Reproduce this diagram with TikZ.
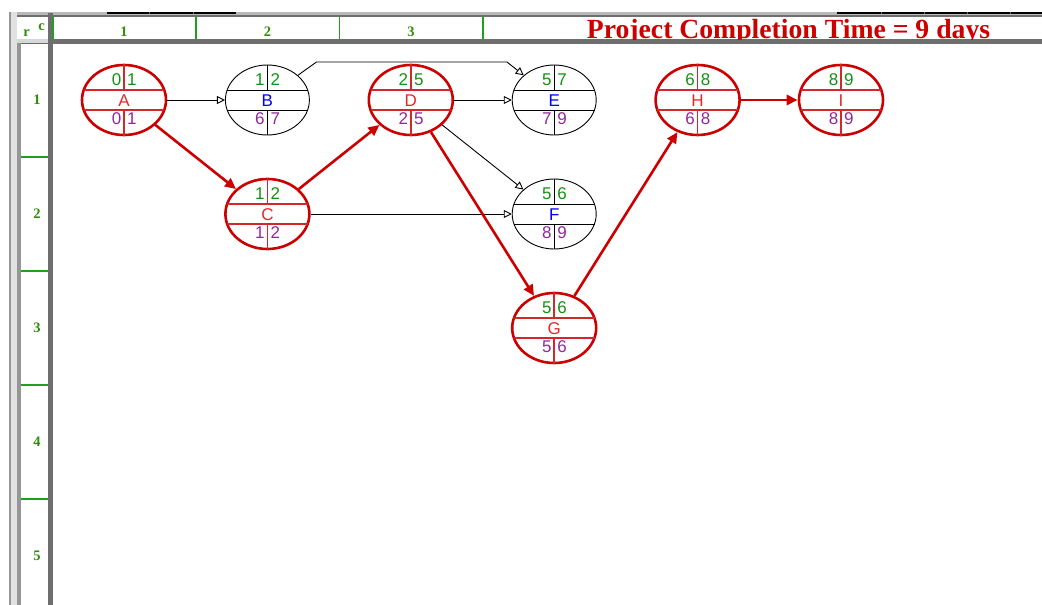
\documentclass[tikz,border=0pt]{standalone}
\usepackage{fontspec}
\setmainfont{Liberation Serif}
\newfontfamily\nodefont{Liberation Sans}
\usetikzlibrary{shapes.geometric,arrows.meta}
\definecolor{critred}{RGB}{204,0,0}
\definecolor{bandred}{RGB}{210,40,40}
\definecolor{lettred}{RGB}{228,40,40}
\definecolor{numgreen}{RGB}{20,145,20}
\definecolor{numpurple}{RGB}{145,40,155}
\definecolor{letblue}{RGB}{0,0,255}
\definecolor{gridgreen}{RGB}{30,160,30}
\definecolor{hdrgreen}{RGB}{50,140,10}
\definecolor{framegray}{RGB}{110,110,110}
\definecolor{lightgray}{RGB}{185,185,185}
\definecolor{midgray}{RGB}{150,150,150}
\definecolor{palegray}{RGB}{225,225,225}
\definecolor{cellgray}{RGB}{215,215,215}
\tikzset{
  critnode/.style={ellipse, draw=critred, line width=2.6pt, minimum width=84pt, minimum height=70pt, inner sep=0pt, fill=white},
  normnode/.style={ellipse, draw=black, line width=0.9pt, minimum width=84pt, minimum height=70pt, inner sep=0pt, fill=white},
  critband/.style={draw=bandred, line width=1.6pt},
  normband/.style={draw=black, line width=0.85pt},
  numtxt/.style={font=\nodefont\fontsize{17}{17}\selectfont, inner sep=0pt},
  esnum/.style={numtxt, text=numgreen},
  lsnum/.style={numtxt, text=numpurple},
  critletter/.style={numtxt, text=lettred},
  normletter/.style={numtxt, text=letblue},
  critedge/.style={draw=critred, line width=2.6pt, -{Triangle[length=11pt,width=10pt]}},
  normedge/.style={draw=black, line width=0.9pt, -{Triangle[open,length=8pt,width=8pt]}},
  hdrtxt/.style={font=\bfseries\fontsize{14.5}{14.5}\selectfont, text=hdrgreen, inner sep=0pt},
  gridline/.style={draw=gridgreen, line width=1.3pt},
}
\newcommand{\pertnode}[9]{%
  \node[#4node] (#1) at (#2,#3) {};
  \draw[#4band] ([shift={(-40.3,-10)}]#1.center) -- ([shift={(40.3,-10)}]#1.center);
  \draw[#4band] ([shift={(-40.3,10)}]#1.center) -- ([shift={(40.3,10)}]#1.center);
  \draw[#4band] (#1.north) -- ([shift={(0,-10)}]#1.center);
  \draw[#4band] ([shift={(0,10)}]#1.center) -- (#1.south);
  \node[esnum, anchor=base east] (#1-es) at ([shift={(-2.5,-14.5)}]#1.center) {#5};
  \node[esnum, anchor=base west] (#1-ef) at ([shift={(3,-14.5)}]#1.center) {#6};
  \node[#4letter, anchor=base] (#1-n) at ([shift={(0,6)}]#1.center) {#7};
  \node[lsnum, anchor=base east] (#1-ls) at ([shift={(-2.5,24)}]#1.center) {#8};
  \node[lsnum, anchor=base west] (#1-lf) at ([shift={(3,24)}]#1.center) {#9};
}
\begin{document}
\begin{tikzpicture}[x=1pt,y=-1pt]
\useasboundingbox (0,0) rectangle (1042,605);
\fill[white] (0,0) rectangle (1042,605);
% ---------- frame ----------
\fill[lightgray] (15,12) rectangle (1042,15);
\fill[framegray] (15,15) rectangle (1042,17);
\fill[black] (107,12.3) rectangle (236,14.3);
\fill[black] (837,12.3) rectangle (1042,14.3);
\foreach \t in {149,193,881,924,967,1010} \fill[framegray] (\t,12.3) rectangle (\t+1,14.3);
\fill[midgray] (9,12) rectangle (11,605);
\fill[palegray] (11,12) rectangle (17,605);
\fill[midgray] (17,39) rectangle (21,605);
\fill[cellgray] (17,39) rectangle (47.5,43);
\fill[framegray] (47.5,13) rectangle (52.5,605);
\fill[framegray] (47.5,39) rectangle (1042,44);
% header dividers
\foreach \xx in {53,196,339.5,483} \draw[gridline] (\xx,17) -- (\xx,39);
% row separators
\foreach \yy in {43.5,157,271,385,499} \draw[gridline] (21,\yy) -- (47.5,\yy);
% header labels
\node[hdrtxt, anchor=base] (rlab) at (26.5,36.5) {r};
\node[hdrtxt, anchor=base] (clab) at (41.5,30.5) {c};
\node[hdrtxt, anchor=base] (col1) at (124,36.5) {1};
\node[hdrtxt, anchor=base] (col2) at (267.5,36.5) {2};
\node[hdrtxt, anchor=base] (col3) at (411,36.5) {3};
\foreach \r/\yy in {1/100,2/214,3/328,4/442,5/556}
  \node[hdrtxt] (row\r) at (37,\yy) {\r};
\begin{scope}
  \clip (54,17) rectangle (1042,39);
  \node[font=\bfseries\fontsize{27.7}{27.7}\selectfont, text=critred, anchor=base, inner sep=0pt] (title) at (788.5,38.8) {Project Completion Time = 9 days};
\end{scope}
% ---------- nodes ----------
\pertnode{A}{124}{100}{crit}{0}{1}{A}{0}{1}
\pertnode{B}{267.4}{100}{norm}{1}{2}{B}{6}{7}
\pertnode{C}{267.4}{214}{crit}{1}{2}{C}{1}{2}
\pertnode{D}{410.8}{100}{crit}{2}{5}{D}{2}{5}
\pertnode{E}{554.2}{100}{norm}{5}{7}{E}{7}{9}
\pertnode{F}{554.2}{214}{norm}{5}{6}{F}{8}{9}
\pertnode{G}{554.2}{328}{crit}{5}{6}{G}{5}{6}
\pertnode{H}{697.6}{100}{crit}{6}{8}{H}{6}{8}
\pertnode{I}{841}{100}{crit}{8}{9}{I}{8}{9}
% ---------- edges ----------
\coordinate (be1) at (316.5,62);
\coordinate (be2) at (507,62);
\draw[normedge] (A) -- (B);
\draw[critedge] (A) -- (C);
\draw[normedge] (B.39) -- (be1) -- (be2) -- (E.141);
\draw[critedge] (C) -- (D);
\draw[normedge] (C) -- (F);
\draw[normedge] (D) -- (E);
\draw[normedge] (D) -- (F);
\draw[critedge] (D) -- (G);
\draw[critedge] (G) -- (H);
\draw[critedge] (H) -- (I);
\end{tikzpicture}
\end{document}
